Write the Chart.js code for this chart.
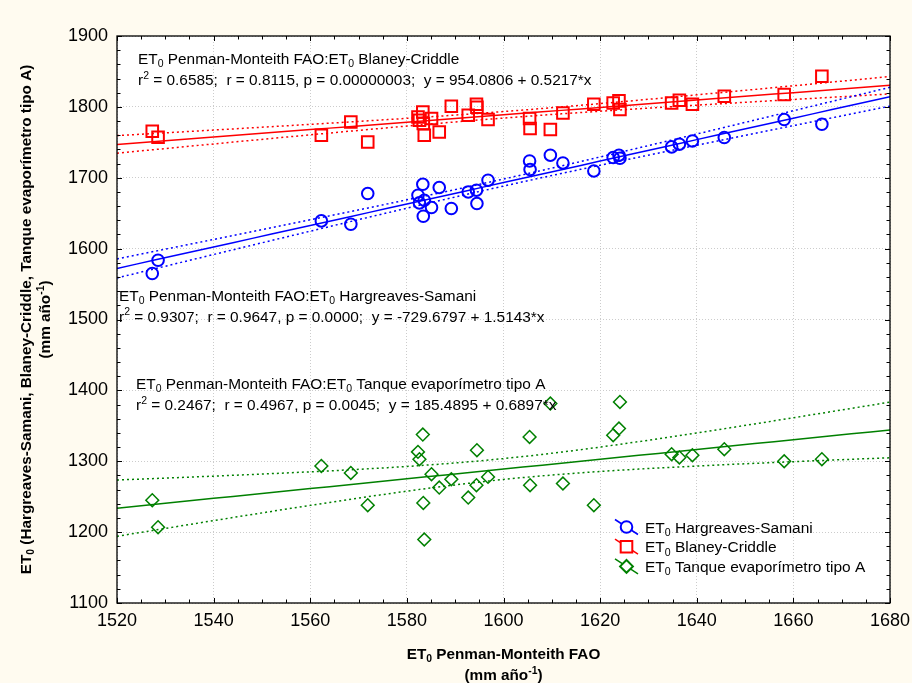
<!DOCTYPE html>
<html>
<head>
<meta charset="utf-8">
<script src="https://cdn.jsdelivr.net/npm/chart.js@4.4.1/dist/chart.umd.min.js"></script>
<style>
  html, body { margin: 0; padding: 0; background: #fffbf0; }
  canvas { display: block; }
</style>
</head>
<body>
<canvas id="chart" width="912" height="683"></canvas>
<script>
// ET0 Penman-Monteith FAO (x) for every station, same order in all series
const pmFao = [1527.3, 1528.5, 1562.3, 1568.4, 1571.9, 1582.3, 1582.6, 1583.3, 1583.4, 1583.6, 1585.1,
  1586.7, 1589.2, 1592.7, 1594.4, 1594.5, 1596.8, 1605.4, 1605.5, 1609.7, 1612.3, 1618.7, 1622.7,
  1623.9, 1624.1, 1634.8, 1636.4, 1639.1, 1645.7, 1658.1, 1665.9]
const hargreaves = [1564.9, 1583.6, 1639.1, 1634.4, 1677.7, 1675.3, 1664.5, 1690.8, 1645.7, 1668.3, 1658.0,
  1686.2, 1656.6, 1680.0, 1682.4, 1663.6, 1696.5, 1723.7, 1711.6, 1731.8, 1720.9, 1709.6, 1728.5,
  1731.8, 1727.5, 1743.5, 1747.3, 1751.9, 1756.7, 1782.1, 1775.5]
const blaney = [1765.6, 1757.2, 1760.0, 1778.7, 1750.5, 1785.8, 1781.1, 1792.8, 1776.5, 1760.0, 1783.5,
  1764.6, 1800.9, 1788.2, 1803.7, 1799.5, 1782.1, 1783.5, 1769.4, 1768.0, 1791.4, 1803.7, 1805.5,
  1808.4, 1796.2, 1805.5, 1809.4, 1803.7, 1815.0, 1817.4, 1843.2]
const tanque = [1245.0, 1206.9, 1293.4, 1283.5, 1238.0, 1313.2, 1302.9, 1337.7, 1241.2, 1189.6, 1281.7,
  1262.9, 1274.6, 1248.8, 1266.2, 1315.6, 1277.9, 1334.3, 1266.2, 1381.4, 1268.6, 1238.0, 1336.7,
  1346.2, 1383.7, 1309.9, 1305.3, 1308.5, 1317.0, 1300.0, 1302.9]

const seriesNames = ['ET_{0} Hargreaves-Samani', 'ET_{0} Blaney-Criddle', 'ET_{0} Tanque evaporímetro tipo A']
const seriesColors = ['#0000ff', '#ff0000', '#008000']
const pointStyles = ['circle', 'rect', 'rectRot']
const intercepts = [-729.6797, 954.0806, 185.4895]
const slopes = [1.5143, 0.5217, 0.6897]
const fitTitles = [
  'ET_{0} Penman-Monteith FAO:ET_{0} Hargreaves-Samani',
  'ET_{0} Penman-Monteith FAO:ET_{0} Blaney-Criddle',
  'ET_{0} Penman-Monteith FAO:ET_{0} Tanque evaporímetro tipo A'
]
const fitStats = [
  'r^{2} = 0.9307;  r = 0.9647, p = 0.0000;  y = -729.6797 + 1.5143*x',
  'r^{2} = 0.6585;  r = 0.8115, p = 0.00000003;  y = 954.0806 + 0.5217*x',
  'r^{2} = 0.2467;  r = 0.4967, p = 0.0045;  y = 185.4895 + 0.6897*x'
]
const xTitle = ['ET_{0} Penman-Monteith FAO', '(mm año^{-1})']
const yTitle = ['ET_{0} (Hargreaves-Samani, Blaney-Criddle, Tanque evaporímetro tipo A)', '(mm año^{-1})']
const xMin = 1520, xMax = 1680, xStep = 20, xMinor = 5
const yMin = 1100, yMax = 1900, yStep = 100, yMinor = 20

const FONT = '"Liberation Sans", Arial, sans-serif'
const T_CRIT = 2.045
const series = [hargreaves, blaney, tanque]

// x positions where the fitted line and its 95% band are evaluated
const fitX = []
for (let x = xMin; x <= xMax; x += 4) fitX.push(x)

function confBand(ys, a, b, sign) {
  const n = pmFao.length
  const mx = pmFao.reduce((s, v) => s + v, 0) / n
  const sxx = pmFao.reduce((s, v) => s + (v - mx) ** 2, 0)
  const sse = pmFao.reduce((s, v, i) => s + (ys[i] - a - b * v) ** 2, 0)
  const se = Math.sqrt(sse / (n - 2))
  return fitX.map(x => ({ x, y: a + b * x + sign * T_CRIT * se * Math.sqrt(1 / n + (x - mx) ** 2 / sxx) }))
}

const datasets = []
series.forEach((ys, i) => {
  datasets.push({
    type: 'scatter',
    data: pmFao.map((x, k) => ({ x, y: ys[k] })),
    pointStyle: pointStyles[i],
    radius: [5.8, 8.2, 6.4][i],
    borderWidth: [2, 2, 1.5][i],
    borderColor: seriesColors[i],
    backgroundColor: 'rgba(0,0,0,0)',
    order: 1
  })
  datasets.push({
    type: 'line',
    data: fitX.map(x => ({ x, y: intercepts[i] + slopes[i] * x })),
    borderColor: seriesColors[i],
    borderWidth: 1.5,
    pointRadius: 0,
    order: 2
  })
  ;[1, -1].forEach(sign => {
    datasets.push({
      type: 'line',
      data: confBand(ys, intercepts[i], slopes[i], sign),
      borderColor: seriesColors[i],
      borderWidth: 1.5,
      borderDash: [2, 3],
      pointRadius: 0,
      order: 2
    })
  })
})

function parts(str) {
  const out = []
  const re = /([_^])\{([^}]*)\}/g
  let last = 0, m
  while ((m = re.exec(str))) {
    if (m.index > last) out.push([str.slice(last, m.index), ''])
    out.push([m[2], m[1]])
    last = re.lastIndex
  }
  if (last < str.length) out.push([str.slice(last), ''])
  return out
}

function drawRich(ctx, str, x, y, size, bold, align) {
  const weight = bold ? 'bold ' : ''
  const segs = parts(str)
  const fontFor = mode => weight + (mode ? size * 0.68 : size) + 'px ' + FONT
  let total = 0
  segs.forEach(s => {
    ctx.font = fontFor(s[1])
    s.push(ctx.measureText(s[0]).width)
    total += s[2]
  })
  let cx = align === 'center' ? x - total / 2 : x
  ctx.textAlign = 'left'
  ctx.textBaseline = 'alphabetic'
  segs.forEach(s => {
    ctx.font = fontFor(s[1])
    const dy = s[1] === '_' ? size * 0.22 : s[1] === '^' ? -size * 0.4 : 0
    ctx.fillText(s[0], cx, y + dy)
    cx += s[2]
  })
}

function marker(ctx, style, x, y) {
  ctx.beginPath()
  if (style === 'circle') {
    ctx.arc(x, y, 5.8, 0, Math.PI * 2)
  } else if (style === 'rect') {
    ctx.rect(x - 5.8, y - 5.8, 11.6, 11.6)
  } else {
    ctx.moveTo(x - 6.4, y); ctx.lineTo(x, y - 6.4); ctx.lineTo(x + 6.4, y); ctx.lineTo(x, y + 6.4)
    ctx.closePath()
  }
  ctx.fill()
  ctx.stroke()
}

const decor = {
  id: 'decor',
  beforeDraw(chart) {
    const ctx = chart.ctx
    const a = chart.chartArea
    ctx.save()
    ctx.fillStyle = '#fffbf0'
    ctx.fillRect(0, 0, chart.width, chart.height)
    ctx.fillStyle = '#ffffff'
    ctx.fillRect(a.left, a.top, a.right - a.left, a.bottom - a.top)
    ctx.restore()
  },
  afterDraw(chart) {
    const ctx = chart.ctx
    const { left, right, top, bottom } = chart.chartArea
    const xs = chart.scales.x, ys = chart.scales.y
    ctx.save()
    // frame
    ctx.strokeStyle = '#000'
    ctx.lineWidth = 1.3
    ctx.strokeRect(left, top, right - left, bottom - top)
    // inner ticks on all four sides
    ctx.lineWidth = 1
    ctx.beginPath()
    for (let v = xMin; v <= xMax; v += xMinor) {
      const px = Math.round(xs.getPixelForValue(v)) + 0.5
      const len = v % xStep === 0 ? 5 : 3.5
      ctx.moveTo(px, bottom); ctx.lineTo(px, bottom - len)
      ctx.moveTo(px, top); ctx.lineTo(px, top + len)
    }
    for (let v = yMin; v <= yMax; v += yMinor) {
      const py = Math.round(ys.getPixelForValue(v)) + 0.5
      const len = v % yStep === 0 ? 5 : 3.5
      ctx.moveTo(left, py); ctx.lineTo(left + len, py)
      ctx.moveTo(right, py); ctx.lineTo(right - len, py)
    }
    ctx.stroke()

    // fit annotations
    ctx.fillStyle = '#000'
    const notePos = [[119, 300.5, 321.5], [138, 63.5, 85], [136, 389, 410]]
    notePos.forEach((p, i) => {
      drawRich(ctx, fitTitles[i], p[0], p[1], 15.4, false)
      drawRich(ctx, fitStats[i], p[0], p[2], 15.4, false)
    })

    // axis titles
    const cx = (left + right) / 2
    drawRich(ctx, xTitle[0], cx, 659, 15.3, true, 'center')
    drawRich(ctx, xTitle[1], cx, 680, 15.3, true, 'center')
    const cy = (top + bottom) / 2
    ctx.save()
    ctx.translate(31, cy)
    ctx.rotate(-Math.PI / 2)
    drawRich(ctx, yTitle[0], 0, 0, 15.3, true, 'center')
    ctx.restore()
    ctx.save()
    ctx.translate(50, cy)
    ctx.rotate(-Math.PI / 2)
    drawRich(ctx, yTitle[1], 0, 0, 15.3, true, 'center')
    ctx.restore()

    // legend
    seriesNames.forEach((name, i) => {
      const y = 527 + i * 19.7
      ctx.strokeStyle = seriesColors[i]
      ctx.lineWidth = 1.5
      ctx.beginPath()
      ctx.moveTo(615, y - 7.5)
      ctx.lineTo(638, y + 7.5)
      ctx.stroke()
      ctx.fillStyle = '#ffffff'
      ctx.lineWidth = 2
      marker(ctx, pointStyles[i], 626.5, y)
      ctx.fillStyle = '#000'
      drawRich(ctx, name, 645, y + 5.5, 15.5, false)
    })
    ctx.restore()
  }
}

new Chart(document.getElementById('chart').getContext('2d'), {
  data: { datasets },
  options: {
    responsive: false,
    animation: false,
    layout: { padding: { top: 36, right: 22, left: 0, bottom: 0 } },
    plugins: { legend: { display: false }, tooltip: { enabled: false } },
    scales: {
      x: {
        type: 'linear',
        min: xMin,
        max: xMax,
        afterFit: s => { s.height = 80; s.paddingLeft = 0; s.paddingRight = 0 },
        ticks: { stepSize: xStep, color: '#000', padding: 7, font: { size: 18, family: FONT }, callback: v => String(v) },
        grid: { color: '#cccccc', lineWidth: 1, drawTicks: false },
        border: { display: false, dash: [1, 2] }
      },
      y: {
        type: 'linear',
        min: yMin,
        max: yMax,
        afterFit: s => { s.width = 117; s.paddingTop = 0; s.paddingBottom = 0 },
        ticks: { stepSize: yStep, color: '#000', padding: 9, font: { size: 18, family: FONT }, callback: v => String(v) },
        grid: { color: '#cccccc', lineWidth: 1, drawTicks: false },
        border: { display: false, dash: [1, 2] }
      }
    }
  },
  plugins: [decor]
})
</script>
</body>
</html>
